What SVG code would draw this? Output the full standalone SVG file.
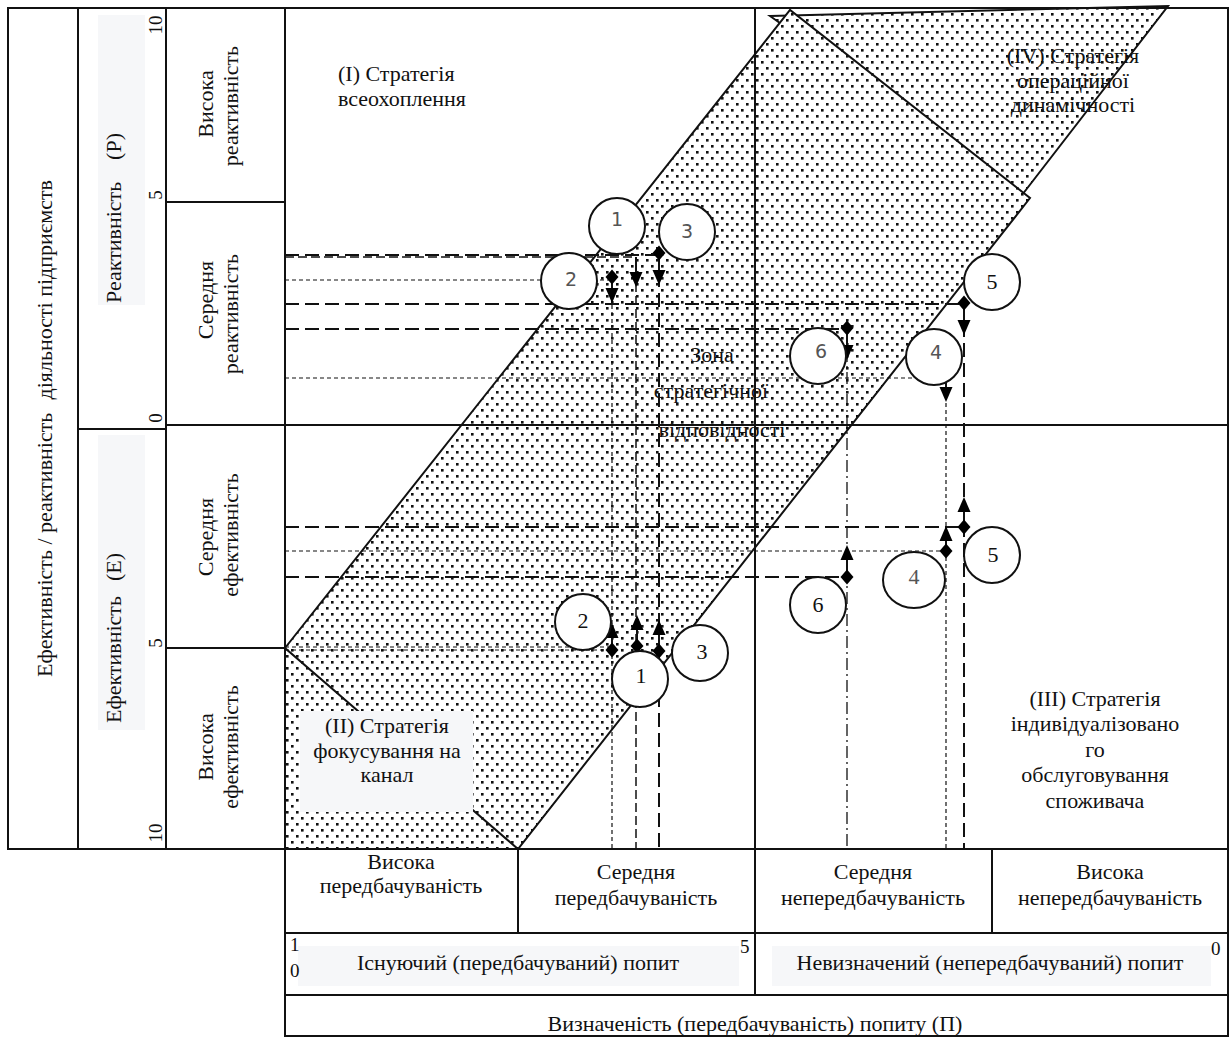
<svg xmlns="http://www.w3.org/2000/svg" xmlns:xlink="http://www.w3.org/1999/xlink" width="1230" height="1041" viewBox="0 0 1230 1041">
<style>
  text { font-family: "Liberation Serif", "Times New Roman", serif; font-size: 22px; fill: #111; }
  .mid { text-anchor: middle; }
  .end { text-anchor: end; }
  .small { font-size: 19px; }
  .frame { fill: none; stroke: #111; stroke-width: 2; }
  .edge { stroke: #111; stroke-width: 2; stroke-linejoin: miter; }
  .bg { fill: #f6f7f9; }
  .ld { stroke: #111; stroke-width: 2; stroke-dasharray: 14 6; fill: none; }
  .md { stroke: #111; stroke-width: 1.5; stroke-dasharray: 9 4; fill: none; }
  .fd { stroke: #111; stroke-width: 1.2; stroke-dasharray: 4 3; fill: none; }
  .dd { stroke: #111; stroke-width: 1.3; stroke-dasharray: 12 4 2 4; fill: none; }
  .stub { stroke: #111; stroke-width: 2; }
  .mk { fill: #000; }
  .node circle, .node ellipse { fill: #fff; stroke: #111; stroke-width: 2; }
  .num { text-anchor: middle; font-size: 22px; }
  .gnum { text-anchor: middle; font-family: "DejaVu Sans", "Liberation Sans", sans-serif; font-size: 19px; fill: #555; }
</style>
<defs>
  <pattern id="dots" width="10" height="12" patternUnits="userSpaceOnUse">
    <rect width="10" height="12" fill="#fff"/>
    <rect x="1" y="1" width="2.6" height="2.6" fill="#111"/>
    <rect x="6" y="7" width="2.6" height="2.6" fill="#111"/>
  </pattern>
  <polygon id="dia" points="0,-7.5 6.5,0 0,7.5 -6.5,0"/>
  <polygon id="arD" points="-6.5,0 6.5,0 0,15"/>
  <polygon id="arU" points="-6.5,0 6.5,0 0,-15"/>
</defs>

<rect width="1230" height="1041" fill="#fff"/>

<!-- strategy zones -->
<g id="zones">
  <polygon id="zone-iv" points="770,16 1168,6 1022,195" fill="url(#dots)" class="edge"/>
  <polygon id="zone-ii" points="285,648 285,849 518,849" fill="url(#dots)"/>
  <polygon id="zone-fit" points="285,648 790,10 1030,198 518,849" fill="url(#dots)" class="edge"/>
</g>

<!-- grid and frames -->
<g id="grid">
  <rect class="frame" x="8" y="8" width="1220" height="841"/>
  <line class="frame" x1="78" y1="8" x2="78" y2="849"/>
  <line class="frame" x1="166" y1="8" x2="166" y2="849"/>
  <line class="frame" x1="285" y1="8" x2="285" y2="1036"/>
  <line class="frame" x1="78" y1="429" x2="166" y2="429"/>
  <line class="frame" x1="166" y1="425" x2="1228" y2="425"/>
  <line class="frame" x1="166" y1="202" x2="285" y2="202"/>
  <line class="frame" x1="166" y1="648" x2="285" y2="648"/>
  <line class="frame" x1="755" y1="8" x2="755" y2="995"/>
  <rect class="frame" x="285" y="849" width="943" height="187"/>
  <line class="frame" x1="285" y1="933" x2="1228" y2="933"/>
  <line class="frame" x1="285" y1="995" x2="1228" y2="995"/>
  <line class="frame" x1="518" y1="849" x2="518" y2="933"/>
  <line class="frame" x1="992" y1="849" x2="992" y2="933"/>
</g>

<!-- axis labels -->
<g id="axis-labels">
  <text transform="translate(52,677) rotate(-90)">Ефективність / реактивність</text>
  <text class="end" transform="translate(52,180) rotate(-90)">діяльності підприємств</text>
  <rect class="bg" x="98" y="15" width="47" height="290"/>
  <text transform="translate(121,303) rotate(-90)">Реактивність</text>
  <text class="end" transform="translate(121,133) rotate(-90)">(Р)</text>
  <rect class="bg" x="98" y="435" width="47" height="295"/>
  <text transform="translate(121,723) rotate(-90)">Ефективність</text>
  <text class="end" transform="translate(121,553) rotate(-90)">(Е)</text>
  <text class="mid small" transform="translate(162,25) rotate(-90)">10</text>
  <text class="mid small" transform="translate(162,195) rotate(-90)">5</text>
  <text class="mid small" transform="translate(162,418) rotate(-90)">0</text>
  <text class="mid small" transform="translate(162,643) rotate(-90)">5</text>
  <text class="mid small" transform="translate(162,833) rotate(-90)">10</text>

  <text class="mid" transform="translate(213,104) rotate(-90)">Висока</text>
  <text class="mid" transform="translate(238,106) rotate(-90)">реактивність</text>
  <text class="mid" transform="translate(213,300) rotate(-90)">Середня</text>
  <text class="mid" transform="translate(238,314) rotate(-90)">реактивність</text>
  <text class="mid" transform="translate(213,537) rotate(-90)">Середня</text>
  <text class="mid" transform="translate(238,535) rotate(-90)">ефективність</text>
  <text class="mid" transform="translate(213,747) rotate(-90)">Висока</text>
  <text class="mid" transform="translate(238,747) rotate(-90)">ефективність</text>

  <text class="mid" x="401" y="869">Висока</text>
  <text class="mid" x="401" y="893">передбачуваність</text>
  <text class="mid" x="636" y="879">Середня</text>
  <text class="mid" x="636" y="905">передбачуваність</text>
  <text class="mid" x="873" y="879">Середня</text>
  <text class="mid" x="873" y="905">непередбачуваність</text>
  <text class="mid" x="1110" y="879">Висока</text>
  <text class="mid" x="1110" y="905">непередбачуваність</text>

  <rect class="bg" x="298" y="946" width="441" height="40"/>
  <rect class="bg" x="772" y="946" width="439" height="40"/>
  <text class="mid" x="518" y="970">Існуючий (передбачуваний) попит</text>
  <text class="mid" x="990" y="970">Невизначений (непередбачуваний) попит</text>
  <text x="290" y="951" class="small">1</text>
  <text x="290" y="977" class="small">0</text>
  <text x="740" y="953" class="small">5</text>
  <text x="1211" y="955" class="small">0</text>
  <text class="mid" x="755" y="1031">Визначеність (передбачуваність) попиту  (П)</text>
</g>

<!-- strategy labels -->
<g id="label-i">
  <text x="338" y="81">(I)  Стратегія</text>
  <text x="338" y="106">всеохоплення</text>
</g>
<g id="label-iv">
  <text class="mid" x="1073" y="63">(IV) Стратегія</text>
  <text class="mid" x="1073" y="88">операційної</text>
  <text class="mid" x="1073" y="112">динамічності</text>
</g>
<g id="label-ii">
  <rect class="bg" x="300" y="711" width="173" height="101"/>
  <text class="mid" x="387" y="733">(II) Стратегія</text>
  <text class="mid" x="387" y="758">фокусування на</text>
  <text class="mid" x="387" y="782">канал</text>
</g>
<g id="label-iii">
  <text class="mid" x="1095" y="706">(III)  Стратегія</text>
  <text class="mid" x="1095" y="731">індивідуалізовано</text>
  <text class="mid" x="1095" y="757">го</text>
  <text class="mid" x="1095" y="782">обслуговування</text>
  <text class="mid" x="1095" y="808">споживача</text>
</g>

<!-- projection connectors -->
<g id="connectors">
  <!-- reactivity levels -->
  <line class="ld" x1="285" y1="255" x2="659" y2="255"/>
  <line class="md" x1="285" y1="257" x2="636" y2="257"/>
  <line class="fd" x1="285" y1="280" x2="612" y2="280"/>
  <line class="ld" x1="285" y1="304" x2="964" y2="304"/>
  <line class="ld" x1="285" y1="329" x2="847" y2="329"/>
  <line class="fd" x1="285" y1="378" x2="946" y2="378"/>
  <!-- efficiency levels -->
  <line class="ld" x1="285" y1="527" x2="964" y2="527"/>
  <line class="fd" x1="285" y1="551" x2="946" y2="551"/>
  <line class="ld" x1="285" y1="577" x2="847" y2="577"/>
  <line class="fd" x1="285" y1="647" x2="612" y2="647"/>
  <line class="fd" x1="285" y1="650" x2="612" y2="650"/>
  <!-- demand projections -->
  <line class="fd" x1="612" y1="277" x2="612" y2="849"/>
  <line class="md" x1="636" y1="257" x2="636" y2="849"/>
  <line class="ld" x1="659" y1="253" x2="659" y2="849"/>
  <line class="dd" x1="847" y1="328" x2="847" y2="849"/>
  <line class="fd" x1="946" y1="375" x2="946" y2="849"/>
  <line class="ld" x1="964" y1="303" x2="964" y2="849"/>

  <!-- upper markers -->
  <line class="stub" x1="636" y1="257" x2="636" y2="273"/>
  <use class="mk" xlink:href="#arD" x="636" y="272"/>
  <line class="stub" x1="612" y1="277" x2="612" y2="289"/>
  <use class="mk" xlink:href="#dia" x="612" y="277"/>
  <use class="mk" xlink:href="#arD" x="612" y="288"/>
  <line class="stub" x1="659" y1="253" x2="659" y2="271"/>
  <use class="mk" xlink:href="#dia" x="659" y="253"/>
  <use class="mk" xlink:href="#arD" x="659" y="270"/>
  <line class="stub" x1="964" y1="303" x2="964" y2="321"/>
  <use class="mk" xlink:href="#dia" x="964" y="303"/>
  <use class="mk" xlink:href="#arD" x="964" y="320"/>
  <line class="stub" x1="847" y1="328" x2="847" y2="346"/>
  <use class="mk" xlink:href="#dia" x="847" y="328"/>
  <use class="mk" xlink:href="#arD" x="847" y="345"/>
  <line class="stub" x1="946" y1="375" x2="946" y2="388"/>
  <use class="mk" xlink:href="#dia" x="946" y="375"/>
  <use class="mk" xlink:href="#arD" x="946" y="387"/>

  <!-- lower markers -->
  <line class="stub" x1="612" y1="650" x2="612" y2="637"/>
  <use class="mk" xlink:href="#dia" x="612" y="650"/>
  <use class="mk" xlink:href="#arU" x="612" y="638"/>
  <line class="stub" x1="637" y1="646" x2="637" y2="629"/>
  <use class="mk" xlink:href="#dia" x="637" y="646"/>
  <use class="mk" xlink:href="#arU" x="637" y="630"/>
  <line class="stub" x1="659" y1="651" x2="659" y2="634"/>
  <use class="mk" xlink:href="#dia" x="659" y="651"/>
  <use class="mk" xlink:href="#arU" x="659" y="635"/>
  <line class="stub" x1="964" y1="527" x2="964" y2="511"/>
  <use class="mk" xlink:href="#dia" x="964" y="527"/>
  <use class="mk" xlink:href="#arU" x="964" y="512"/>
  <line class="stub" x1="946" y1="551" x2="946" y2="540"/>
  <use class="mk" xlink:href="#dia" x="946" y="551"/>
  <use class="mk" xlink:href="#arU" x="946" y="541"/>
  <line class="stub" x1="847" y1="577" x2="847" y2="559"/>
  <use class="mk" xlink:href="#dia" x="847" y="577"/>
  <use class="mk" xlink:href="#arU" x="847" y="560"/>
</g>

<!-- zone caption -->
<g id="label-fit">
  <text class="mid" x="712" y="362">Зона</text>
  <text class="mid" x="711" y="398">стратегічної</text>
  <text class="mid" x="722" y="437">відповідності</text>
</g>

<!-- enterprise points -->
<g id="p1-r" class="node"><circle cx="617" cy="226" r="28"/><text class="gnum" x="617" y="226">1</text></g>
<g id="p2-r" class="node"><circle cx="569" cy="281" r="28"/><text class="gnum" x="571" y="286">2</text></g>
<g id="p3-r" class="node"><circle cx="687" cy="232" r="28"/><text class="gnum" x="687" y="238">3</text></g>
<g id="p5-r" class="node"><circle cx="992" cy="282" r="28"/><text class="num" x="992" y="289">5</text></g>
<g id="p6-r" class="node"><circle cx="818" cy="356" r="28"/><text class="gnum" x="821" y="358">6</text></g>
<g id="p4-r" class="node"><circle cx="934" cy="357" r="28"/><text class="gnum" x="936" y="359">4</text></g>

<g id="p2-e" class="node"><circle cx="583" cy="622" r="28"/><text class="num" x="583" y="628">2</text></g>
<g id="p1-e" class="node"><circle cx="640" cy="679" r="28"/><text class="num" x="641" y="683">1</text></g>
<g id="p3-e" class="node"><circle cx="700" cy="653" r="28"/><text class="num" x="702" y="659">3</text></g>
<g id="p4-e" class="node"><ellipse cx="914" cy="580" rx="31" ry="28"/><text class="num" x="914" y="584" style="fill:#555">4</text></g>
<g id="p5-e" class="node"><circle cx="992" cy="555" r="28"/><text class="num" x="993" y="562">5</text></g>
<g id="p6-e" class="node"><circle cx="818" cy="605" r="28"/><text class="num" x="818" y="612">6</text></g>
</svg>
